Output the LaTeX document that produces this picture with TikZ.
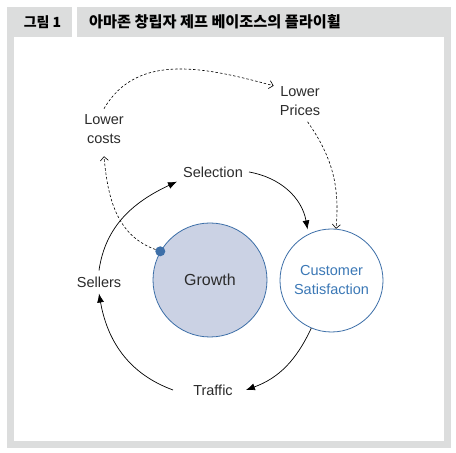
\documentclass[tikz,border=0pt]{standalone}
\usepackage{fontspec}
\setmainfont{Liberation Sans}
\newfontfamily\kofont{Noto Sans CJK KR}
\usetikzlibrary{arrows.meta}
\definecolor{framegray}{HTML}{DCDDDD}
\definecolor{growthfill}{HTML}{CBD2E4}
\definecolor{ringblue}{HTML}{3D6FA8}
\definecolor{textblue}{HTML}{3B78B6}
\definecolor{labelgray}{HTML}{2B2B2B}

\begin{document}
\begin{tikzpicture}[x=1pt,y=1pt,
    lbl/.style={font=\fontsize{14.5}{19}\selectfont, text=labelgray, align=center, inner sep=6pt},
    cyclearrow/.style={-{Latex[length=9pt,width=7pt]}, line width=0.7pt},
    dasharrow/.style={-{Straight Barb[length=4pt,width=8pt]}, dash pattern=on 2.5pt off 2pt, line width=0.6pt}]
    \useasboundingbox (0,0) rectangle (456,453);

    % frame and title bar
    \fill[framegray] (7,5) rectangle (451,416);
    \fill[white] (14,12) rectangle (444,416);
    \fill[framegray] (7,416) rectangle (72,446);
    \fill[framegray] (77,416) rectangle (451,446);
    \node[font=\kofont\bfseries\fontsize{14}{14}\selectfont] (fignum) at (42.5,431) {그림 1};
    \node[anchor=west, inner sep=0pt, font=\kofont\bfseries\fontsize{15.2}{15.2}\selectfont] (figtitle) at (89,431) {아마존 창립자 제프 베이조스의 플라이휠};

    % the two circles
    \node[circle, draw=ringblue, fill=growthfill, line width=0.8pt, minimum size=114pt,
          font=\fontsize{16}{16}\selectfont, text=labelgray] (growth) at (210,173) {Growth};
    \node[circle, draw=ringblue, fill=white, line width=0.8pt, minimum size=103pt,
          font=\fontsize{14.5}{19}\selectfont, text=textblue, align=center] (satisf) at (331.5,172.5) {Customer\\Satisfaction};
    \node[circle, fill=ringblue, minimum size=10pt, inner sep=0pt] (dot) at (growth.150) {};

    % labels
    \node[lbl] (selection) at (213,281) {Selection};
    \node[lbl] (sellers) at (99,171) {Sellers};
    \node[lbl] (traffic) at (213,63) {Traffic};
    \node[lbl] (lowcost) at (104,323.5) {Lower\\costs};
    \node[lbl] (lowprice) at (300,352) {Lower\\Prices};

    % flywheel
    \draw[cyclearrow] (sellers.north) to[out=82,in=205] (selection.195);
    \draw[cyclearrow] (selection.east) to[out=-10,in=100] ([shift={(-2,4)}]satisf.115);
    \draw[cyclearrow] (satisf.247) to[out=245,in=20] ([xshift=7pt]traffic.east);
    \draw[cyclearrow] ([xshift=-14pt]traffic.west) to[out=160,in=-80] (sellers.south);

    % dashed side loop
    \draw[dasharrow] (dot) to[out=160,in=-85] ([yshift=-6pt]lowcost.south);
    \draw[dasharrow] (lowcost.north) to[out=60,in=165] (lowprice.150);
    \draw[dasharrow] (lowprice.-70) to[out=-55,in=85] (satisf.85);
\end{tikzpicture}
\end{document}
